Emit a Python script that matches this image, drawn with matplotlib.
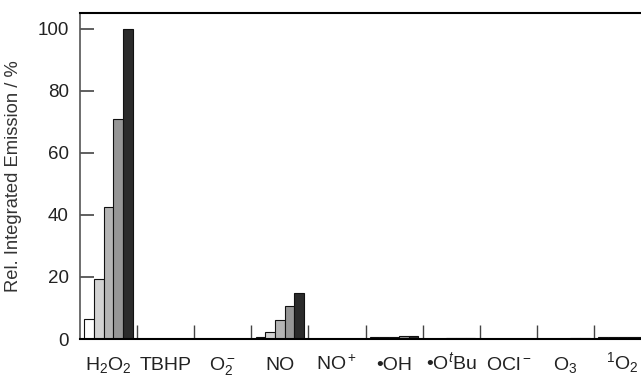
import matplotlib
matplotlib.use("Agg")
import matplotlib.pyplot as plt
import numpy as np

plt.rcParams['font.family'] = ['Liberation Sans', 'DejaVu Sans']
plt.rcParams['mathtext.fontset'] = 'custom'
plt.rcParams['mathtext.rm'] = 'Liberation Sans'
plt.rcParams['mathtext.it'] = 'Liberation Sans:italic'

categories = [r'$\mathregular{H_2O_2}$', 'TBHP', r'$\mathregular{O_2^-}$', 'NO',
              r'$\mathregular{NO^+}$', '•OH', r'•O$^{\mathit{t}}$Bu',
              r'$\mathregular{OCl^-}$', r'$\mathregular{O_3}$', r'$\mathregular{^1O_2}$']

level1 = [6.4, 0.1, 0.1, 0.8, 0.1, 0.8, 0.1, 0.1, 0.1, 0.6]
level2 = [19.3, 0.1, 0.1, 2.2, 0.1, 0.7, 0.1, 0.1, 0.1, 0.6]
level3 = [42.7, 0.1, 0.1, 6.0, 0.1, 0.8, 0.3, 0.1, 0.1, 0.7]
level4 = [70.9, 0.1, 0.1, 10.5, 0.1, 0.9, 0.4, 0.1, 0.4, 0.7]
level5 = [100.0, 0.1, 0.1, 14.8, 0.1, 1.0, 0.4, 0.1, 0.4, 0.7]

series = [level1, level2, level3, level4, level5]
colors = ['#ffffff', '#d2d2d2', '#b4b4b4', '#969696', '#2b2b2b']

W, H = 641, 379
fig = plt.figure(figsize=(W / 100, H / 100), dpi=100)
left, right = 80 / W, 651 / W
bottom, top = 1 - 339 / H, 1 - 13.3 / H
ax = fig.add_axes([left, bottom, right - left, top - bottom])

x = np.arange(len(categories))
bw = 0.17
for i, (vals, c) in enumerate(zip(series, colors)):
    ax.bar(x + (i - 2) * bw, vals, width=bw, color=c, edgecolor='#111111',
           linewidth=0.8, zorder=2)

ax.set_xlim(-0.5, 9.5)
ax.set_ylim(0, 105)
ax.set_yticks([0, 20, 40, 60, 80, 100])
ax.set_xticks(x)
ax.set_xticklabels(categories)
ax.set_xticks(np.arange(0.5, 9.5, 1.0), minor=True)

ax.tick_params(axis='y', direction='in', length=10, width=1.2, color='#444444',
               labelsize=13.5, labelcolor='#222222', pad=8)
ax.tick_params(axis='x', which='major', length=0, labelsize=14,
               labelcolor='#222222', pad=22)
ax.tick_params(axis='x', which='minor', direction='in', length=10, width=1.0,
               color='#444444')
for lab in ax.get_xticklabels():
    lab.set_verticalalignment('baseline')

ax.spines['left'].set_color('#555555')
ax.spines['left'].set_linewidth(1.2)
ax.spines['bottom'].set_linewidth(1.5)
ax.spines['top'].set_linewidth(1.5)
ax.spines['right'].set_linewidth(1.5)

ax.set_ylabel('Rel. Integrated Emission / %', fontsize=13.2, color='#333333',
              va='center')
ax.yaxis.set_label_coords(-0.117, 0.5)

fig.savefig('out.png', dpi=100)
